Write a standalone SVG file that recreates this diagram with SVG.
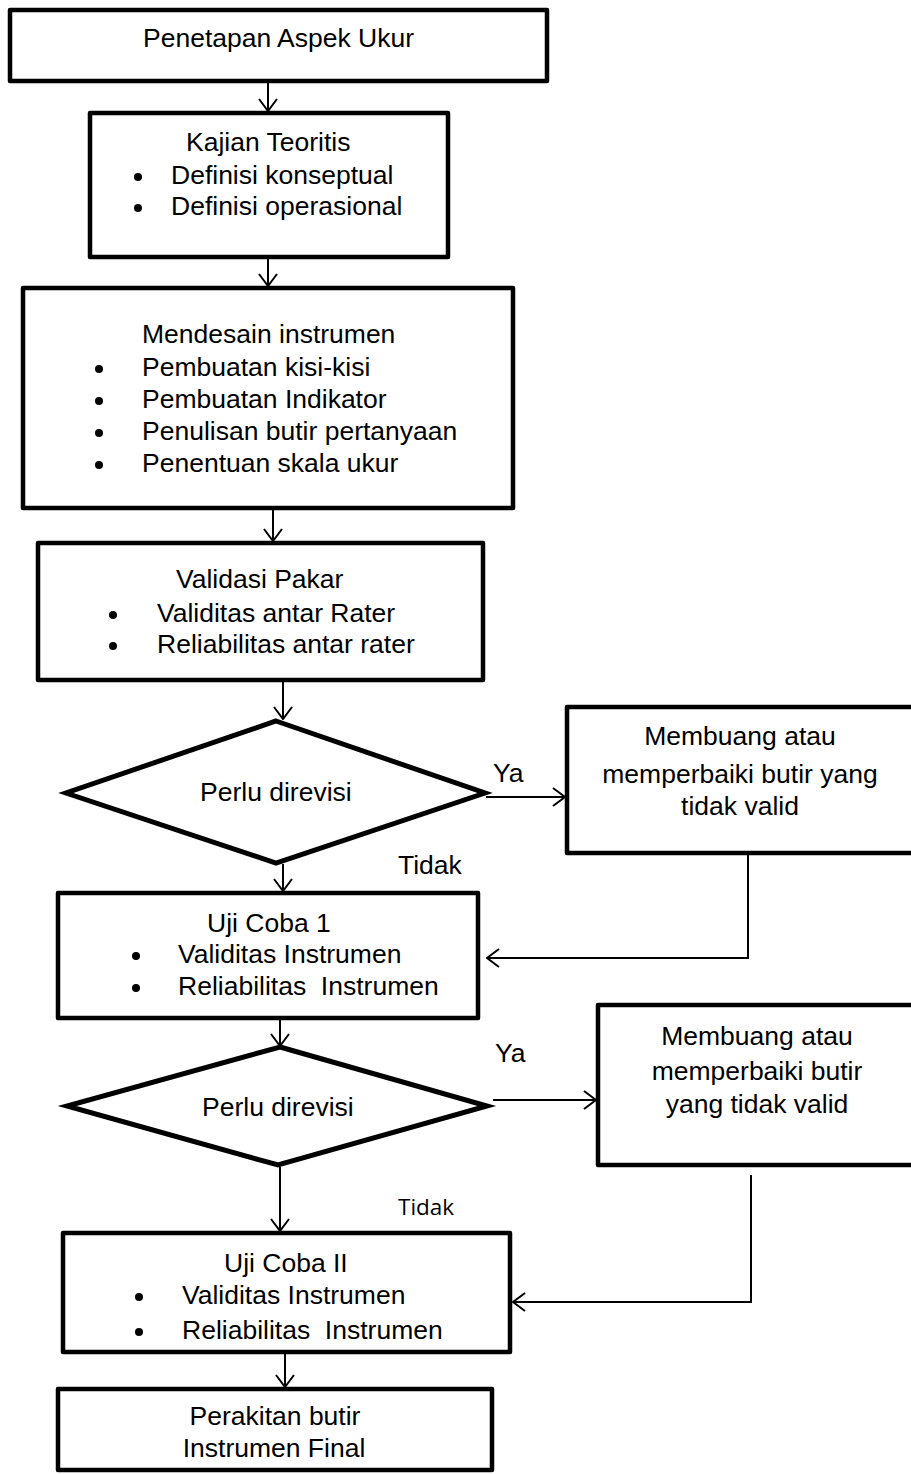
<svg xmlns="http://www.w3.org/2000/svg" width="911" height="1474" viewBox="0 0 911 1474">
  <style>
    .box { fill: #fff; stroke: #000; stroke-width: 4.5; stroke-linejoin: round; }
    .dia { fill: #fff; stroke: #000; stroke-width: 5; stroke-linejoin: miter; }
    .t { font-family: "Liberation Sans", Arial, sans-serif; font-size: 26.5px; fill: #000; }
    .c { text-anchor: middle; }
    .lbl2 { font-family: "Open Sans", "Liberation Sans", sans-serif; font-size: 22.5px; fill: #000; }
    .bul { fill: #000; }
    .con { fill: none; stroke: #000; stroke-width: 2; }
  </style>
  <defs>
    <marker id="arr" viewBox="0 0 14 20" markerWidth="14" markerHeight="20" refX="13" refY="10" orient="auto" markerUnits="userSpaceOnUse">
      <path d="M1,1 L13,10 L1,19" fill="none" stroke="#000" stroke-width="2"/>
    </marker>
  </defs>
  <rect width="911" height="1474" fill="#fff"/>

  <g id="connectors">
    <line class="con" x1="268" y1="83" x2="268" y2="111" marker-end="url(#arr)"/>
    <line class="con" x1="268" y1="259" x2="268" y2="286" marker-end="url(#arr)"/>
    <line class="con" x1="273" y1="510" x2="273" y2="541" marker-end="url(#arr)"/>
    <line class="con" x1="283" y1="682" x2="283" y2="719" marker-end="url(#arr)"/>
    <line class="con" x1="283" y1="864" x2="283" y2="891" marker-end="url(#arr)"/>
    <line class="con" x1="280" y1="1020" x2="280" y2="1046" marker-end="url(#arr)"/>
    <line class="con" x1="280" y1="1167" x2="280" y2="1231" marker-end="url(#arr)"/>
    <line class="con" x1="285" y1="1354" x2="285" y2="1387" marker-end="url(#arr)"/>
    <line class="con" x1="486" y1="797" x2="565" y2="797" marker-end="url(#arr)"/>
    <polyline class="con" points="748,855 748,958 487,958" marker-end="url(#arr)"/>
    <line class="con" x1="493" y1="1100" x2="596" y2="1100" marker-end="url(#arr)"/>
    <polyline class="con" points="751,1175 751,1302 513,1302" marker-end="url(#arr)"/>
  </g>

  <g id="penetapan">
    <rect class="box" x="10" y="10" width="537" height="71"/>
    <text class="t" x="143" y="47">Penetapan Aspek Ukur</text>
  </g>

  <g id="kajian">
    <rect class="box" x="90" y="113" width="358" height="144"/>
    <text class="t" x="186" y="151">Kajian Teoritis</text>
    <circle class="bul" cx="138" cy="177" r="4"/>
    <text class="t" x="171" y="184">Definisi konseptual</text>
    <circle class="bul" cx="138" cy="208" r="4"/>
    <text class="t" x="171" y="215">Definisi operasional</text>
  </g>

  <g id="mendesain">
    <rect class="box" x="23" y="288" width="490" height="220"/>
    <text class="t" x="142" y="343">Mendesain instrumen</text>
    <circle class="bul" cx="99" cy="369" r="4"/>
    <text class="t" x="142" y="376">Pembuatan kisi-kisi</text>
    <circle class="bul" cx="99" cy="401" r="4"/>
    <text class="t" x="142" y="408">Pembuatan Indikator</text>
    <circle class="bul" cx="99" cy="433" r="4"/>
    <text class="t" x="142" y="440">Penulisan butir pertanyaan</text>
    <circle class="bul" cx="99" cy="465" r="4"/>
    <text class="t" x="142" y="472">Penentuan skala ukur</text>
  </g>

  <g id="validasi">
    <rect class="box" x="38" y="543" width="445" height="137"/>
    <text class="t" x="176" y="588">Validasi Pakar</text>
    <circle class="bul" cx="113" cy="615" r="4"/>
    <text class="t" x="157" y="622">Validitas antar Rater</text>
    <circle class="bul" cx="113" cy="646" r="4"/>
    <text class="t" x="157" y="653">Reliabilitas antar rater</text>
  </g>

  <g id="keputusan1">
    <polygon class="dia" points="276,721 485,793 276,863 66,793"/>
    <text class="t" x="200" y="801">Perlu direvisi</text>
  </g>

  <g id="perbaikan1">
    <rect class="box" x="567" y="707" width="360" height="146"/>
    <text class="t c" x="740" y="745">Membuang atau</text>
    <text class="t c" x="740" y="783">memperbaiki butir yang</text>
    <text class="t c" x="740" y="815">tidak valid</text>
  </g>

  <g id="label-ya1"><text class="t" x="493" y="782">Ya</text></g>
  <g id="label-tidak1"><text class="t" x="398" y="874">Tidak</text></g>

  <g id="ujicoba1">
    <rect class="box" x="58" y="893" width="420" height="125"/>
    <text class="t" x="207" y="932">Uji Coba 1</text>
    <circle class="bul" cx="136" cy="956" r="4"/>
    <text class="t" x="178" y="963">Validitas Instrumen</text>
    <circle class="bul" cx="136" cy="988" r="4"/>
    <text class="t" x="178" y="995" xml:space="preserve">Reliabilitas  Instrumen</text>
  </g>

  <g id="keputusan2">
    <polygon class="dia" points="280,1047 487,1106 278,1165 67,1106"/>
    <text class="t" x="202" y="1116">Perlu direvisi</text>
  </g>

  <g id="perbaikan2">
    <rect class="box" x="598" y="1005" width="330" height="160"/>
    <text class="t c" x="757" y="1045">Membuang atau</text>
    <text class="t c" x="757" y="1080">memperbaiki butir</text>
    <text class="t c" x="757" y="1113">yang tidak valid</text>
  </g>

  <g id="label-ya2"><text class="t" x="495" y="1062">Ya</text></g>
  <g id="label-tidak2"><text class="lbl2" x="398" y="1215">Tidak</text></g>

  <g id="ujicoba2">
    <rect class="box" x="63" y="1233" width="447" height="119"/>
    <text class="t" x="224" y="1272">Uji Coba II</text>
    <circle class="bul" cx="139" cy="1297" r="4"/>
    <text class="t" x="182" y="1304">Validitas Instrumen</text>
    <circle class="bul" cx="139" cy="1332" r="4"/>
    <text class="t" x="182" y="1339" xml:space="preserve">Reliabilitas  Instrumen</text>
  </g>

  <g id="perakitan">
    <rect class="box" x="58" y="1389" width="434" height="81"/>
    <text class="t c" x="275" y="1425">Perakitan butir</text>
    <text class="t c" x="274" y="1457">Instrumen Final</text>
  </g>
</svg>
